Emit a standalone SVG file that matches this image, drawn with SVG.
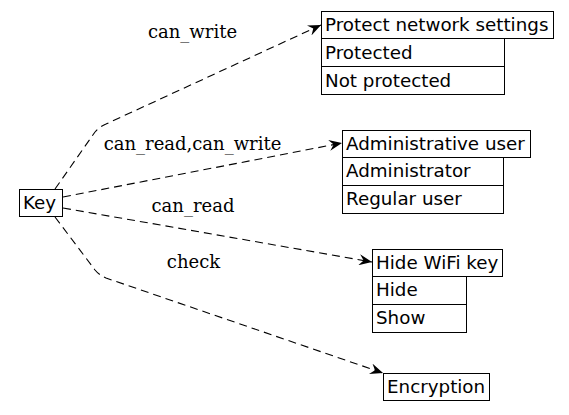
<svg xmlns="http://www.w3.org/2000/svg" width="569" height="415" viewBox="0 0 569 415">
<style>
.box{fill:none;stroke:#000;stroke-width:1}
.nt{font-family:"DejaVu Sans",sans-serif;font-size:18.3px;fill:#000}
.el{font-family:"DejaVu Serif",serif;font-size:18px;fill:#000;text-anchor:middle}
.edge{fill:none;stroke:#000;stroke-width:1.1;stroke-dasharray:8,5}
</style>
<defs>
<marker id="arr" viewBox="0 0 13 11" refX="13" refY="5.5" markerWidth="13" markerHeight="11" markerUnits="userSpaceOnUse" orient="auto">
<path d="M0,0 L13,5.5 L0,11 L4.5,5.5 Z" fill="#000"/>
</marker>
</defs>
<rect width="569" height="415" fill="#fff"/>
<g id="edges">
<path class="edge" d="M55,189 L95,132 Q99,127 106,124 L321,25" marker-end="url(#arr)"/>
<path class="edge" d="M63,197 L342,143" marker-end="url(#arr)"/>
<path class="edge" d="M63,208 L372,262" marker-end="url(#arr)"/>
<path class="edge" d="M55,217 L95,270 Q99,275 106,278 L383,373" marker-end="url(#arr)"/>
<text class="el" x="192.5" y="38">can_write</text>
<text class="el" x="192.5" y="150">can_read,can_write</text>
<text class="el" x="193" y="212">can_read</text>
<text class="el" x="193.5" y="268">check</text>
</g>
<g id="key">
<rect class="box" x="19.5" y="189.5" width="43" height="27"/>
<text class="nt" x="23" y="209">Key</text>
</g>
<g id="protect">
<rect class="box" x="321.5" y="11.5" width="232" height="27"/>
<rect class="box" x="321.5" y="38.5" width="183" height="28"/>
<rect class="box" x="321.5" y="66.5" width="183" height="28"/>
<text class="nt" x="325" y="31">Protect network settings</text>
<text class="nt" x="325" y="58.5">Protected</text>
<text class="nt" x="325" y="86.5">Not protected</text>
</g>
<g id="admin">
<rect class="box" x="342.5" y="130.5" width="188" height="27"/>
<rect class="box" x="342.5" y="157.5" width="161" height="28"/>
<rect class="box" x="342.5" y="185.5" width="161" height="28"/>
<text class="nt" x="346" y="149.5">Administrative user</text>
<text class="nt" x="346" y="177">Administrator</text>
<text class="nt" x="346" y="205">Regular user</text>
</g>
<g id="wifi">
<rect class="box" x="372.5" y="249.5" width="130" height="27"/>
<rect class="box" x="372.5" y="276.5" width="94" height="28"/>
<rect class="box" x="372.5" y="304.5" width="94" height="28"/>
<text class="nt" x="376" y="268.5">Hide WiFi key</text>
<text class="nt" x="376" y="296">Hide</text>
<text class="nt" x="376" y="324">Show</text>
</g>
<g id="encryption">
<rect class="box" x="383.5" y="373.5" width="106" height="27"/>
<text class="nt" x="387" y="392.5">Encryption</text>
</g>
</svg>
